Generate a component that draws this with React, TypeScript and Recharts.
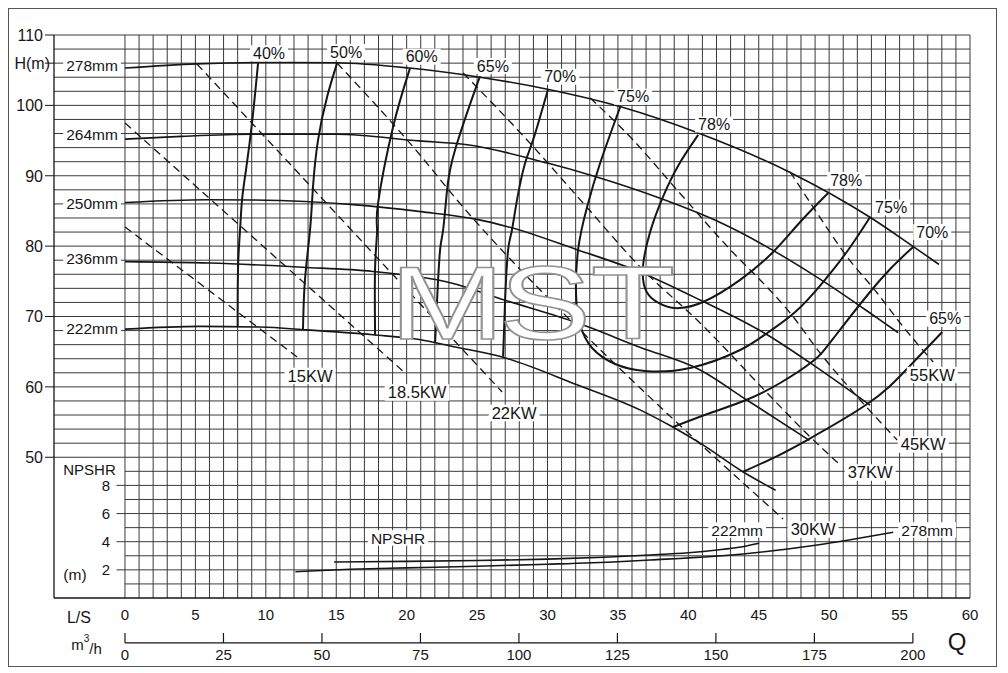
import React from "react";
import {
  ComposedChart,
  Line,
  XAxis,
  YAxis,
  CartesianGrid,
  ReferenceLine,
  ReferenceDot,
} from "recharts";

// axis ticks
const lsTicks = [0, 5, 10, 15, 20, 25, 30, 35, 40, 45, 50, 55, 60];
const m3Ticks = [0, 25, 50, 75, 100, 125, 150, 175, 200];
const hTicks = [50, 60, 70, 80, 90, 100, 106, 110];
const npshTicks = [2, 4, 6, 8];

// grid lines (L/S every 1, H every 2 m, NPSHR every 1 m)
const qGrid = Array.from({ length: 61 }, (_, i) => i);
const hGrid = Array.from({ length: 31 }, (_, i) => 50 + i * 2);
const nGrid = [1, 2, 3, 4, 5, 6, 7, 8, 9];

// H-Q curves [Q L/S, H m]
const hq278 = [[0, 105.3], [5.1, 105.9], [10, 106.1], [15, 106.05], [20.2, 105.3], [25.2, 104.0], [30, 102.3], [35.2, 99.8], [40.8, 96.0], [47.2, 90.5], [52.9, 84.1], [56, 79.9], [57.8, 77.4]];
const hq264 = [[0, 95.2], [4, 95.6], [9, 95.9], [15, 95.9], [20.9, 94.95], [24.3, 94.4], [30, 91.8], [33.2, 90.0], [38, 86.8], [42, 83.6], [49.6, 75.0], [53.4, 69.8], [54.9, 67.7]];
const hq250 = [[0, 86.2], [5.8, 86.6], [9.1, 86.55], [16.2, 85.9], [21, 84.9], [25, 83.8], [27.1, 82.8], [32.1, 79.5], [36.6, 76.3], [40.84, 72.34], [45.6, 67.4], [48.65, 63.4], [52.9, 57.4]];
const hq236 = [[0, 77.8], [6, 77.6], [12.6, 77.0], [17.6, 76.4], [23.1, 74.8], [27, 72.3], [32.1, 69.1], [36.6, 65.6], [40.84, 62.4], [44.18, 58.1], [48.6, 52.4]];
const hq222 = [[0, 68.2], [5.3, 68.6], [9.6, 68.5], [12.9, 68.1], [17.6, 67.4], [21, 66.7], [23.1, 65.8], [26.85, 64.2], [32.1, 60.3], [36.6, 56.7], [38.8, 54.4], [40.84, 52.0], [43.9, 47.9], [46.2, 45.3]];

// efficiency curves [Q, H]
const eff40 = [[9.45, 106.0], [9.02, 97.5], [8.59, 90.8], [8.31, 86.55], [8.17, 82.3], [8.03, 77.0], [8.0, 68.5]];
const eff50 = [[15.06, 106.0], [14.35, 101.2], [13.71, 95.1], [13.35, 88.4], [13.14, 82.3], [12.78, 75.2], [12.64, 68.15]];
const eff60 = [[20.24, 105.3], [19.03, 96.9], [17.97, 86.1], [17.9, 82.3], [17.76, 77.0], [17.76, 67.35]];
const eff65 = [[25.21, 104.0], [24.86, 102.2], [23.44, 93.7], [22.87, 88.0], [22.59, 82.3], [22.37, 79.4], [22.16, 72.3], [22.02, 66.3]];
const eff70 = [[30.04, 102.3], [28.98, 95.1], [28.41, 91.8], [27.84, 86.6], [27.45, 82.0], [27.2, 79.4], [26.99, 72.3], [26.85, 64.3]];
const eff75 = [[35.16, 99.77], [33.74, 91.81], [32.81, 85.56], [32.17, 79.45], [32.03, 73.06], [32.32, 68.79], [33.17, 65.52], [34.8, 63.25], [36.93, 62.26], [40.13, 62.69], [43.68, 65.24], [45.6, 67.66], [47.59, 70.64], [49.57, 74.9], [51.35, 79.45], [52.91, 84.14]];
const eff78 = [[40.7, 95.8], [39.3, 91.5], [38.2, 87.0], [37.3, 82.1], [36.8, 77.5], [36.85, 74.5], [37.4, 72.6], [38.5, 71.4], [39.4, 71.2], [41.05, 72.06], [43.68, 75.2], [46.02, 79.17], [47.94, 83.43], [49.93, 87.55]];
const eff70r = [[55.97, 79.88], [53.62, 75.19], [50.43, 67.23], [48.86, 63.67], [46.52, 60.55], [44.11, 58.14], [41.55, 56.29], [38.92, 54.3]];
const eff65r = [[58.03, 67.8], [55.4, 62.3], [52.7, 57.56], [48.44, 52.45], [46.16, 50.03], [43.89, 47.94]];

// shaft power lines [Q, H]
const kw15 = [[0, 82.72], [12.22, 64.25]];
const kw185 = [[0, 97.5], [19.89, 61.97]];
const kw22 = [[5.11, 105.88], [26.78, 59.27]];
const kw30 = [[15.06, 106.02], [20.95, 92.95], [23.58, 86.55], [32.32, 68.08], [36.58, 59.84], [46.73, 41.23]];
const kw37 = [[24.01, 104.6], [28.55, 95.08], [32.53, 86.13], [36.58, 77.03], [40.84, 69.08], [45.6, 59.13], [48.15, 53.87], [50.78, 48.9]];
const kw45 = [[33.03, 101.05], [36.08, 95.08], [39.2, 87.97], [43.68, 78.03], [45.1, 75.19], [47.23, 70.5], [49.36, 64.81], [52.2, 58.14], [54.83, 52.45]];
const kw55 = [[47.23, 90.53], [48.86, 85.56], [51.28, 78.46], [53.41, 73.34], [55.04, 69.08], [57.39, 63.53]];

// NPSHR curves [Q, NPSHR m]
const npsh222 = [[14.85, 2.56], [20, 2.6], [25, 2.66], [30, 2.76], [34, 2.9], [37.3, 3.06], [40, 3.22], [42.05, 3.41], [43.6, 3.6], [45.03, 3.89]];
const npsh278 = [[12.1, 1.87], [16, 2.04], [20, 2.14], [25, 2.26], [30, 2.4], [35, 2.58], [37.3, 2.7], [44.4, 3.18], [49.15, 3.77], [54.55, 4.67]];

// annotations, in axis units
const effLabels = [
  { q: 10.23, h: 107.4, text: "40%" },
  { q: 15.7, h: 107.58, text: "50%" },
  { q: 21.07, h: 106.92, text: "60%" },
  { q: 26.12, h: 105.6, text: "65%" },
  { q: 30.9, h: 104.07, text: "70%" },
  { q: 36.08, h: 101.23, text: "75%" },
  { q: 41.83, h: 97.28, text: "78%" },
  { q: 51.21, h: 89.4, text: "78%" },
  { q: 54.4, h: 85.49, text: "75%" },
  { q: 57.32, h: 82.0, text: "70%" },
  { q: 58.24, h: 69.69, text: "65%" },
];
const kwLabels = [
  { q: 13.14, h: 61.55, text: "15KW" },
  { q: 20.74, h: 59.2, text: "18.5KW" },
  { q: 27.63, h: 56.29, text: "22KW" },
  { q: 48.86, h: 39.73, text: "30KW" },
  { q: 52.91, h: 47.83, text: "37KW" },
  { q: 56.68, h: 51.81, text: "45KW" },
  { q: 57.32, h: 61.69, text: "55KW" },
];
const impLabels = [
  { q: -2.34, h: 105.74, text: "278mm" },
  { q: -2.34, h: 95.93, text: "264mm" },
  { q: -2.34, h: 86.08, text: "250mm" },
  { q: -2.34, h: 78.27, text: "236mm" },
  { q: -2.34, h: 68.37, text: "222mm" },
  { q: 43.47, h: 39.66, text: "222mm" },
  { q: 56.96, h: 39.66, text: "278mm" },
  { q: 19.39, h: 38.53, text: "NPSHR" },
];

const FONT = "'Liberation Sans', Arial, Helvetica, sans-serif";
const INK = "#161616";
const GRID = "#3a3a3a";

const toPts = (a: number[][], key = "h") => a.map(([q, v]) => ({ q, [key]: v }));

const CW: Record<string, number> = {
  "%": 0.889, m: 0.833, K: 0.667, W: 0.944, ".": 0.278, N: 0.722, P: 0.667,
  S: 0.667, H: 0.722, R: 0.722, "(": 0.333, ")": 0.333, "/": 0.278, L: 0.556,
};
const textW = (t: string, fs: number) =>
  [...t].reduce((s, c) => s + (CW[c] ?? 0.556), 0) * fs;

const boxed = (text: string, fs: number, bg = true) => (p: any) => {
  const w = textW(text, fs);
  return (
    <g>
      {bg && (
        <rect x={p.cx - w / 2 - 3} y={p.cy - fs * 0.5} width={w + 6} height={fs} fill="#fff" />
      )}
      <text x={p.cx} y={p.cy} dy="0.36em" textAnchor="middle" fontSize={fs} fill={INK}>
        {text}
      </text>
    </g>
  );
};

const HTick = (p: any) => {
  const v = p.payload.value;
  return (
    <text x={v === 106 ? p.x + 7 : p.x} y={p.y} dy="0.36em" textAnchor="end" fontSize={16} fill={INK}>
      {v === 106 ? "H(m)" : v}
    </text>
  );
};

const M3Tick = (p: any) => (
  <g>
    <line x1={p.x} y1={p.y - 10} x2={p.x} y2={p.y} stroke={INK} strokeWidth={1.2} />
    <text x={p.x} y={p.y + 17} textAnchor="middle" fontSize={15} fill={INK}>
      {p.payload.value}
    </text>
  </g>
);

// watermark letters, offset from the watermark centre
const wmLetters = [
  { ch: "M", dx: -90 },
  { ch: "S", dx: 8 },
  { ch: "T", dx: 96 },
];
const watermark = (p: any) => (
  <g>
    {wmLetters.map((l) => (
      <g key={l.ch} transform={`translate(${p.cx + l.dx},${p.cy + 37}) scale(1.33,1)`}>
        <text
          x={0}
          y={0}
          textAnchor="middle"
          fontSize={104}
          fill="#fff"
          stroke="#939393"
          strokeWidth={1.6}
        >
          {l.ch}
        </text>
      </g>
    ))}
  </g>
);

const m3Title = (p: any) => (
  <text x={p.cx} y={p.cy} dy="0.36em" textAnchor="middle" fontSize={15} fill={INK}>
    <tspan>m</tspan>
    <tspan dy="-0.75em" fontSize={10}>3</tspan>
    <tspan dy="0.75em">/h</tspan>
  </text>
);

const hqCurves = [hq278, hq264, hq250, hq236, hq222];
const effCurves = [eff40, eff50, eff60, eff65, eff70, eff75, eff78, eff70r, eff65r];
const kwCurves = [kw15, kw185, kw22, kw30, kw37, kw45, kw55];

export default function App() {
  return (
    <div
      style={{
        width: 987,
        height: 657,
        border: "1px solid #555",
        fontFamily: FONT,
        background: "#fff",
      }}
    >
      <ComposedChart width={987} height={657} margin={{ top: 26, right: 26, bottom: 0, left: 0 }}>
        <CartesianGrid
          xAxisId="ls"
          yAxisId="h"
          horizontalValues={hGrid}
          verticalValues={qGrid}
          stroke={GRID}
          strokeWidth={1}
          fill="none"
        />
        <XAxis
          xAxisId="ls"
          dataKey="q"
          type="number"
          domain={[-5.04, 60]}
          ticks={lsTicks}
          interval={0}
          allowDataOverflow
          height={45}
          tickLine={false}
          tickSize={0}
          tickMargin={11}
          axisLine={{ stroke: INK, strokeWidth: 1.3 }}
          tick={{ fontSize: 15, fill: INK }}
        />
        <XAxis
          xAxisId="m3"
          dataKey="q"
          type="number"
          domain={[-18.02, 214.5]}
          ticks={m3Ticks}
          interval={0}
          allowDataOverflow
          height={23}
          tickLine={false}
          tickSize={0}
          tickMargin={0}
          axisLine={false}
          tick={M3Tick}
        />
        <YAxis
          yAxisId="h"
          type="number"
          domain={[30, 110]}
          ticks={hTicks}
          interval={0}
          allowDataOverflow
          width={45}
          tickSize={9}
          tickMargin={2}
          tickLine={{ stroke: INK }}
          axisLine={{ stroke: INK, strokeWidth: 1.3 }}
          tick={HTick}
        />
        <YAxis yAxisId="n" type="number" domain={[0, 40]} allowDataOverflow hide />

        {nGrid.map((n) => (
          <ReferenceLine
            key={"ng" + n}
            xAxisId="ls"
            yAxisId="n"
            segment={[{ x: npshTicks.includes(n) ? -0.6 : 0, y: n }, { x: 60, y: n }]}
            stroke={GRID}
            strokeWidth={1}
            ifOverflow="visible"
          />
        ))}
        <ReferenceLine
          xAxisId="m3"
          yAxisId="h"
          segment={[{ x: 0, y: 23.61 }, { x: 200, y: 23.61 }]}
          stroke={INK}
          strokeWidth={1.2}
          ifOverflow="visible"
        />

        {hqCurves.map((c, i) => (
          <Line
            key={"hq" + i}
            xAxisId="ls"
            yAxisId="h"
            data={toPts(c)}
            dataKey="h"
            type="monotone"
            stroke={INK}
            strokeWidth={1.6}
            dot={false}
            activeDot={false}
            isAnimationActive={false}
          />
        ))}
        {effCurves.map((c, i) => (
          <Line
            key={"ef" + i}
            xAxisId="ls"
            yAxisId="h"
            data={toPts(c)}
            dataKey="h"
            type="natural"
            stroke={INK}
            strokeWidth={2}
            dot={false}
            activeDot={false}
            isAnimationActive={false}
          />
        ))}
        {kwCurves.map((c, i) => (
          <Line
            key={"kw" + i}
            xAxisId="ls"
            yAxisId="h"
            data={toPts(c)}
            dataKey="h"
            type="monotone"
            stroke={INK}
            strokeWidth={1.3}
            strokeDasharray="8 5"
            dot={false}
            activeDot={false}
            isAnimationActive={false}
          />
        ))}
        {[npsh222, npsh278].map((c, i) => (
          <Line
            key={"np" + i}
            xAxisId="ls"
            yAxisId="n"
            data={toPts(c, "n")}
            dataKey="n"
            type="monotone"
            stroke={INK}
            strokeWidth={1.6}
            dot={false}
            activeDot={false}
            isAnimationActive={false}
          />
        ))}

        <ReferenceDot xAxisId="ls" yAxisId="h" x={29.26} y={72} r={0} ifOverflow="visible" shape={watermark} />

        {effLabels.map((l, i) => (
          <ReferenceDot key={"el" + i} xAxisId="ls" yAxisId="h" x={l.q} y={l.h} r={0} ifOverflow="visible" shape={boxed(l.text, 16)} />
        ))}
        {kwLabels.map((l, i) => (
          <ReferenceDot key={"kl" + i} xAxisId="ls" yAxisId="h" x={l.q} y={l.h} r={0} ifOverflow="visible" shape={boxed(l.text, 16.5)} />
        ))}
        {impLabels.map((l, i) => (
          <ReferenceDot key={"il" + i} xAxisId="ls" yAxisId="h" x={l.q} y={l.h} r={0} ifOverflow="visible" shape={boxed(l.text, 15.5)} />
        ))}
        {npshTicks.map((n) => (
          <ReferenceDot key={"nt" + n} xAxisId="ls" yAxisId="n" x={-1.36} y={n} r={0} ifOverflow="visible" shape={boxed(String(n), 15)} />
        ))}
        <ReferenceDot xAxisId="ls" yAxisId="n" x={-2.52} y={9.1} r={0} ifOverflow="visible" shape={boxed("NPSHR", 15)} />
        <ReferenceDot xAxisId="ls" yAxisId="n" x={-3.55} y={1.67} r={0} ifOverflow="visible" shape={boxed("(m)", 15.5)} />
        <ReferenceDot xAxisId="ls" yAxisId="h" x={-3.27} y={27.23} r={0} ifOverflow="visible" shape={boxed("L/S", 16, false)} />
        <ReferenceDot xAxisId="ls" yAxisId="h" x={-2.73} y={23.4} r={0} ifOverflow="visible" shape={m3Title} />
        <ReferenceDot xAxisId="ls" yAxisId="h" x={59.09} y={23.82} r={0} ifOverflow="visible" shape={boxed("Q", 24, false)} />
      </ComposedChart>
    </div>
  );
}
